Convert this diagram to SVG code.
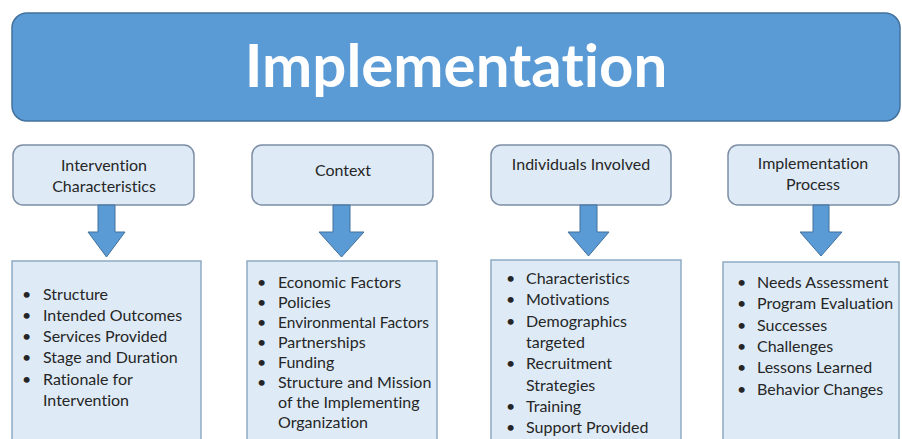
<svg xmlns="http://www.w3.org/2000/svg" width="902" height="439" viewBox="0 0 902 439">
  <style>
    text { font-variant-ligatures: none; }
    .title-box { fill: #5B9BD5; stroke: #41719C; stroke-width: 1.5; }
    .title { font-family: Lato, "Open Sans", sans-serif; font-weight: bold; font-size: 60px; fill: #ffffff; text-anchor: middle; }
    .head-box { fill: #DEEBF7; stroke: #7E8EA5; stroke-width: 1.5; }
    .head { font-family: Lato, "Open Sans", sans-serif; font-size: 16px; fill: #262626; text-anchor: middle; }
    .list-box { fill: #DEEBF7; stroke: #8FAAC4; stroke-width: 1.5; }
    .item { font-family: Lato, "Open Sans", sans-serif; font-size: 16px; fill: #262626; }
    .arrow { fill: #5B9BD5; stroke: #41719C; stroke-width: 1; }
  </style>

  <g id="title">
    <rect class="title-box" x="12" y="13" width="888" height="108" rx="15"/>
    <text class="title" x="456" y="87">Implementation</text>
  </g>

  <g id="head-intervention">
    <rect class="head-box" x="13" y="145" width="181" height="60" rx="10"/>
    <text class="head" x="104" y="171">Intervention</text>
    <text class="head" x="104" y="192">Characteristics</text>
  </g>
  <g id="head-context">
    <rect class="head-box" x="252" y="145" width="181" height="60" rx="10"/>
    <text class="head" x="343" y="176">Context</text>
  </g>
  <g id="head-individuals">
    <rect class="head-box" x="491" y="145" width="180" height="60" rx="10"/>
    <text class="head" x="581" y="170">Individuals Involved</text>
  </g>
  <g id="head-process">
    <rect class="head-box" x="728" y="145" width="171" height="60" rx="10"/>
    <text class="head" x="813" y="169">Implementation</text>
    <text class="head" x="813" y="190">Process</text>
  </g>

  <g id="connectors">
    <path class="arrow" d="M98,205 H115 V232 H125 L106.5,257 L88,232 H98 Z"/>
    <path class="arrow" d="M333,205 H350 V232 H364 L341.5,257 L319,232 H333 Z"/>
    <path class="arrow" d="M580,205 H597 V232 H609 L588.5,256 L568,232 H580 Z"/>
    <path class="arrow" d="M813,205 H829 V232 H842 L821,256 L800,232 H813 Z"/>
  </g>

  <g id="list-intervention">
    <rect class="list-box" x="12" y="261" width="189" height="190"/>
    <g class="item">
      <text x="22" y="300">•</text><text x="43" y="300">Structure</text>
      <text x="22" y="321">•</text><text x="43" y="321">Intended Outcomes</text>
      <text x="22" y="342">•</text><text x="43" y="342">Services Provided</text>
      <text x="22" y="363">•</text><text x="43" y="363">Stage and Duration</text>
      <text x="22" y="385">•</text><text x="43" y="385">Rationale for</text>
      <text x="43" y="406">Intervention</text>
    </g>
  </g>

  <g id="list-context">
    <rect class="list-box" x="247" y="261" width="190" height="190"/>
    <g class="item">
      <text x="257" y="288">•</text><text x="278" y="288">Economic Factors</text>
      <text x="257" y="308">•</text><text x="278" y="308">Policies</text>
      <text x="257" y="328">•</text><text x="278" y="328" textLength="151" lengthAdjust="spacingAndGlyphs">Environmental Factors</text>
      <text x="257" y="348">•</text><text x="278" y="348">Partnerships</text>
      <text x="257" y="368">•</text><text x="278" y="368">Funding</text>
      <text x="257" y="388">•</text><text x="278" y="388">Structure and Mission</text>
      <text x="278" y="408">of the Implementing</text>
      <text x="278" y="428">Organization</text>
    </g>
  </g>

  <g id="list-individuals">
    <rect class="list-box" x="491" y="260" width="190" height="190"/>
    <g class="item">
      <text x="506" y="284">•</text><text x="526" y="284">Characteristics</text>
      <text x="506" y="305">•</text><text x="526" y="305">Motivations</text>
      <text x="506" y="327">•</text><text x="526" y="327">Demographics</text>
      <text x="526" y="348">targeted</text>
      <text x="506" y="369">•</text><text x="526" y="369">Recruitment</text>
      <text x="526" y="391">Strategies</text>
      <text x="506" y="412">•</text><text x="526" y="412">Training</text>
      <text x="506" y="433">•</text><text x="526" y="433">Support Provided</text>
    </g>
  </g>

  <g id="list-process">
    <rect class="list-box" x="723" y="262" width="176" height="190"/>
    <g class="item">
      <text x="737" y="288">•</text><text x="757" y="288">Needs Assessment</text>
      <text x="737" y="309">•</text><text x="757" y="309">Program Evaluation</text>
      <text x="737" y="331">•</text><text x="757" y="331">Successes</text>
      <text x="737" y="352">•</text><text x="757" y="352">Challenges</text>
      <text x="737" y="373">•</text><text x="757" y="373">Lessons Learned</text>
      <text x="737" y="395">•</text><text x="757" y="395">Behavior Changes</text>
    </g>
  </g>
</svg>
